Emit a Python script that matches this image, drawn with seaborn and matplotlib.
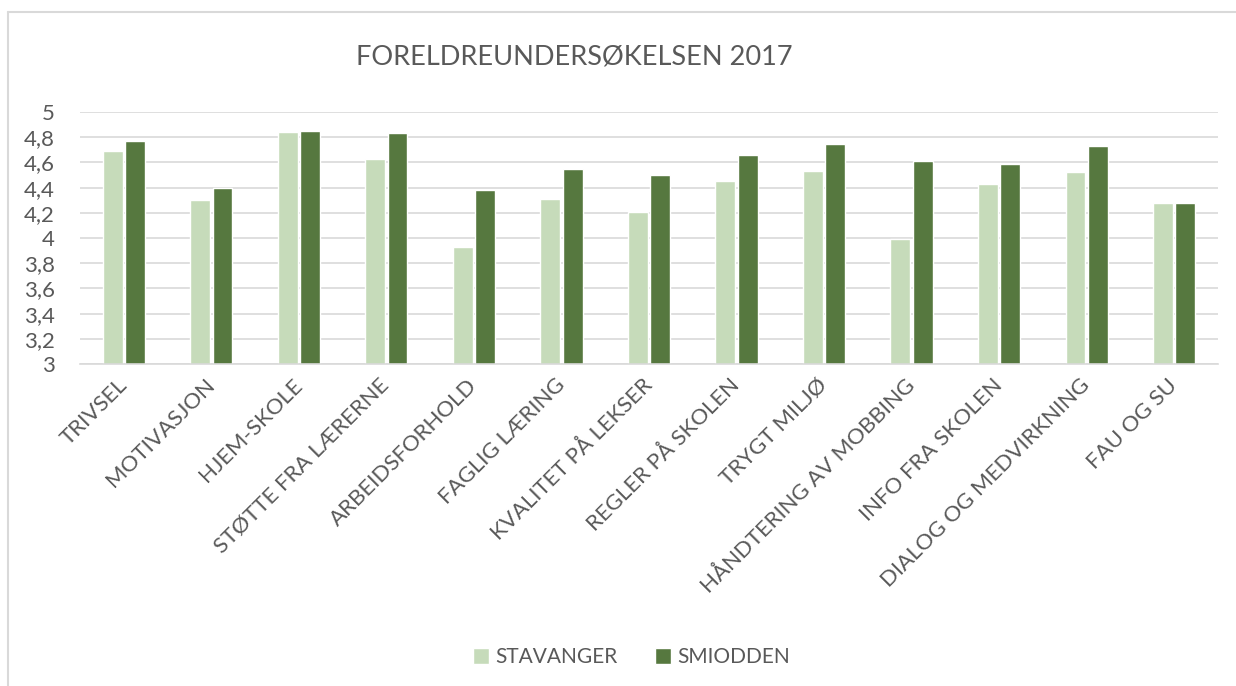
import matplotlib
matplotlib.use("Agg")
import matplotlib.pyplot as plt
import seaborn as sns
import pandas as pd
from matplotlib.lines import Line2D

# Data
kategorier = ["TRIVSEL", "MOTIVASJON", "HJEM-SKOLE", "STØTTE FRA LÆRERNE",
              "ARBEIDSFORHOLD", "FAGLIG LÆRING", "KVALITET PÅ LEKSER",
              "REGLER PÅ SKOLEN", "TRYGT MILJØ", "HÅNDTERING AV MOBBING",
              "INFO FRA SKOLEN", "DIALOG OG MEDVIRKNING", "FAU OG SU"]
stavanger = [4.69, 4.30, 4.84, 4.63, 3.93, 4.31, 4.21, 4.45, 4.53, 3.99, 4.43, 4.52, 4.28]
smiodden = [4.77, 4.40, 4.85, 4.83, 4.38, 4.55, 4.50, 4.66, 4.75, 4.61, 4.59, 4.73, 4.28]
serier = ["STAVANGER", "SMIODDEN"]
y_ticks = [3, 3.2, 3.4, 3.6, 3.8, 4, 4.2, 4.4, 4.6, 4.8, 5]
y_labels = ["3", "3,2", "3,4", "3,6", "3,8", "4", "4,2", "4,4", "4,6", "4,8", "5"]

df = pd.DataFrame({
    "kategori": kategorier * 2,
    "skole": [serier[0]] * len(kategorier) + [serier[1]] * len(kategorier),
    "verdi": stavanger + smiodden,
})

sns.set_style("white")
plt.rcParams["font.family"] = ["Lato", "DejaVu Sans"]
tekst = "#595959"

fig = plt.figure(figsize=(12.36, 6.86), dpi=100)
ax = fig.add_axes([0.0647, 0.4694, 0.9207, 0.3673])

sns.barplot(data=df, x="kategori", y="verdi", hue="skole",
            palette=["#C5E0B4", "#548235"], width=0.51, gap=0.11,
            ax=ax, legend=True)

ax.set_ylim(3, 5)
ax.set_xlim(-0.5, len(kategorier) - 0.5)
ax.set_yticks(y_ticks)
ax.set_yticklabels(y_labels, fontsize=16, color=tekst)
ax.set_xticks(range(len(kategorier)))
ax.set_xticklabels(kategorier, rotation=45, ha="right", va="center",
                   rotation_mode="anchor", fontsize=16, color=tekst)
ax.tick_params(axis="x", pad=13, length=0)
ax.tick_params(axis="y", pad=18, length=0)
ax.set_xlabel("")
ax.set_ylabel("")
ax.grid(axis="y", color="#D9D9D9", linewidth=1.2)
ax.set_axisbelow(True)
for s in ["top", "right", "left"]:
    ax.spines[s].set_visible(False)
ax.spines["bottom"].set_color("#D9D9D9")
ax.spines["bottom"].set_linewidth(1.2)

fig.text(0.465, 0.917, "FORELDREUNDERSØKELSEN 2017", ha="center", va="center",
         fontsize=19.5, color=tekst, fontweight="normal")

handles, labels = ax.get_legend_handles_labels()
ax.legend_.remove()
fig.legend(handles, labels, loc="center", bbox_to_anchor=(0.511, 0.042),
           ncol=2, frameon=False, fontsize=15, labelcolor=tekst,
           handlelength=0.75, handleheight=0.75, handletextpad=0.3,
           columnspacing=1.8)

# chart border (left and top edges visible)
fig.add_artist(Line2D([0.0065, 0.0065], [0.0, 0.9825], transform=fig.transFigure,
                      color="#D9D9D9", linewidth=1.5))
fig.add_artist(Line2D([0.0065, 1.0], [0.9825, 0.9825], transform=fig.transFigure,
                      color="#D9D9D9", linewidth=1.5))

fig.savefig("out.png", dpi=100)
